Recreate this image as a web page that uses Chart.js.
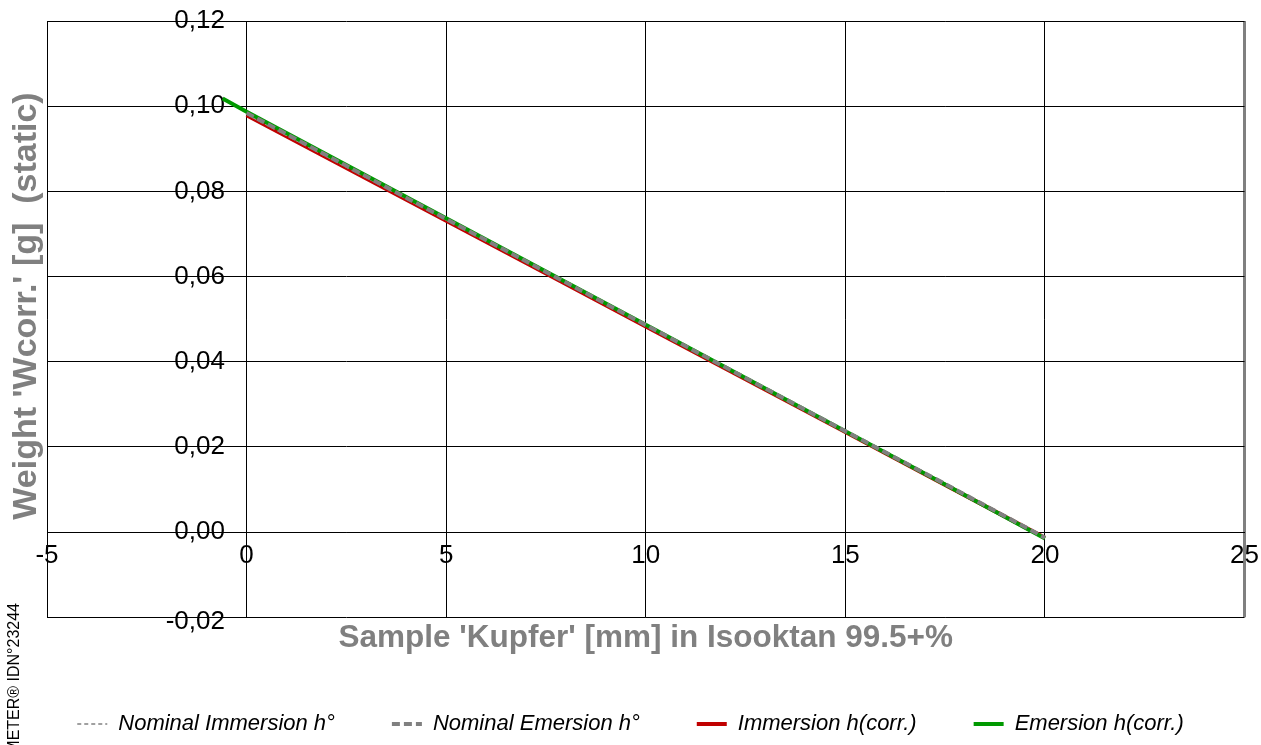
<!DOCTYPE html>
<html lang="de">
<head>
<meta charset="UTF-8">
<title>Weight 'Wcorr.' - Kupfer in Isooktan</title>
<script src="https://cdn.jsdelivr.net/npm/chart.js@4.4.1/dist/chart.umd.min.js"></script>
<style>
  html, body { margin: 0; padding: 0; background: #fff; }
  #wrap { width: 1261px; height: 745px; position: relative; }
</style>
</head>
<body>
<div id="wrap"><canvas id="chart"></canvas></div>
<script>
// depth of sample [mm]
const depthImm = [0, 2.5, 5, 7.5, 10, 12.5, 15, 17.5, 20];
const depthEm = [-0.6, 0, 2.5, 5, 7.5, 10, 12.5, 15, 17.5, 20];

// weight [g]
const nominalImm = [0.0982, 0.0858, 0.0734, 0.0610, 0.0486, 0.0361, 0.0237, 0.0113, -0.0012];
const nominalEm = [0.0984, 0.0860, 0.0735, 0.0611, 0.0486, 0.0362, 0.0237, 0.0113, -0.0013];
const immCorr = [0.0979, 0.0855, 0.0731, 0.0607, 0.0483, 0.0359, 0.0235, 0.0111, -0.0013];
const emCorr = [0.1018, 0.0987, 0.0862, 0.0737, 0.0612, 0.0487, 0.0362, 0.0237, 0.0112, -0.0015];

const xTicks = [-5, 0, 5, 10, 15, 20, 25];
const yTicks = [-0.02, 0, 0.02, 0.04, 0.06, 0.08, 0.10, 0.12];

const xTitle = "Sample 'Kupfer' [mm] in Isooktan 99.5+%";
const yTitle = "Weight 'Wcorr.' [g]  (static)";
const sideLabel = 'METER\u00AE IDN\u00B023244';

const pts = (xs, ys) => xs.map((x, i) => ({x: x, y: ys[i]}));

const FONT = '"Liberation Sans", Arial, sans-serif';

// rotated texts on the left margin
const sideText = {
    id: 'sideText',
    afterDraw(chart) {
        const ctx = chart.ctx;
        ctx.save();
        ctx.translate(27, 306);
        ctx.rotate(-Math.PI / 2);
        ctx.font = 'bold 34px ' + FONT;
        ctx.fillStyle = '#808080';
        ctx.textAlign = 'center';
        ctx.textBaseline = 'middle';
        ctx.fillText(yTitle, 0, 0);
        ctx.restore();

        ctx.save();
        ctx.translate(15, 603);
        ctx.rotate(-Math.PI / 2);
        ctx.font = '16px "Liberation Sans Narrow", ' + FONT;
        ctx.fillStyle = '#000';
        ctx.textAlign = 'right';
        ctx.textBaseline = 'middle';
        ctx.fillText(sideLabel, 0, 0);
        ctx.restore();
    }
};

// legend samples should keep the dash pattern of the lines
const legendLabels = chart =>
    Chart.defaults.plugins.legend.labels.generateLabels(chart).map(item => {
        const ds = chart.data.datasets[item.datasetIndex];
        item.lineDash = ds.borderDash || [];
        item.lineWidth = ds.borderWidth;
        item.strokeStyle = ds.borderColor;
        return item;
    });

new Chart(document.getElementById('chart'), {
    type: 'line',
    data: {
        datasets: [{
            label: 'Nominal Immersion h\u00B0',
            data: pts(depthImm, nominalImm),
            borderColor: '#a0a0a0',
            backgroundColor: '#a0a0a0',
            borderWidth: 2,
            borderDash: [4, 3],
            pointRadius: 0,
            order: 2
        }, {
            label: 'Nominal Emersion h\u00B0',
            data: pts(depthImm, nominalEm),
            borderColor: '#808080',
            backgroundColor: '#808080',
            borderWidth: 4,
            borderDash: [8, 4],
            pointRadius: 0,
            order: 0
        }, {
            label: 'Immersion h(corr.)',
            data: pts(depthImm, immCorr),
            borderColor: '#c00000',
            backgroundColor: '#c00000',
            borderWidth: 4,
            pointRadius: 0,
            order: 3
        }, {
            label: 'Emersion h(corr.)',
            data: pts(depthEm, emCorr),
            borderColor: '#009900',
            backgroundColor: '#009900',
            borderWidth: 4,
            pointRadius: 0,
            order: 1
        }]
    },
    options: {
        responsive: true,
        maintainAspectRatio: false,
        animation: false,
        layout: {
            padding: {left: 0, right: 0, top: 21, bottom: 0}
        },
        plugins: {
            legend: {
                position: 'bottom',
                labels: {
                    usePointStyle: true,
                    pointStyle: 'line',
                    pointStyleWidth: 30,
                    padding: 57,
                    color: '#000',
                    font: {family: FONT, size: 22, style: 'italic'},
                    generateLabels: legendLabels,
                    sort: (a, b) => a.datasetIndex - b.datasetIndex
                }
            },
            title: {
                display: true,
                text: xTitle,
                position: 'bottom',
                fullSize: false,
                weight: 100,
                color: '#808080',
                font: {family: FONT, size: 31.5, weight: 'bold', lineHeight: 1.1},
                padding: {top: 4, bottom: 0}
            },
            tooltip: {enabled: false}
        },
        scales: {
            x: {
                type: 'linear',
                min: -5,
                max: 25,
                position: {y: 0},
                afterBuildTicks: s => { s.ticks = xTicks.map(v => ({value: v})); },
                grid: {
                    color: c => c.tick && c.tick.value === 25 ? '#808080' : '#000',
                    lineWidth: c => c.tick && c.tick.value === 25 ? 3 : 1,
                    tickLength: 6
                },
                border: {display: true, color: '#000', width: 1},
                ticks: {
                    autoSkip: false,
                    maxRotation: 0,
                    padding: 2,
                    color: '#000',
                    font: {family: FONT, size: 26}
                }
            },
            y: {
                type: 'linear',
                min: -0.02,
                max: 0.12,
                position: {x: 0},
                afterBuildTicks: s => { s.ticks = yTicks.map(v => ({value: v})); },
                grid: {
                    color: '#000',
                    lineWidth: 1,
                    tickLength: 6
                },
                border: {display: true, color: '#000', width: 1},
                ticks: {
                    autoSkip: false,
                    color: '#000',
                    // the lowest label sits a little below its line
                    font: c => ({
                        family: FONT,
                        size: 26,
                        lineHeight: c.tick && c.tick.value === -0.02 ? '9px' : 1.2
                    }),
                    callback: v => {
                        const s = v.toFixed(2).replace('.', ',') + '   ';
                        return v === -0.02 ? ['', s] : s;
                    }
                }
            },
            // empty strip on the left that holds the rotated axis title
            yMargin: {
                type: 'linear',
                position: 'left',
                display: true,
                ticks: {display: false},
                grid: {display: false},
                border: {display: false},
                afterFit: s => { s.width = 47; }
            }
        }
    },
    plugins: [sideText]
});
</script>
</body>
</html>
